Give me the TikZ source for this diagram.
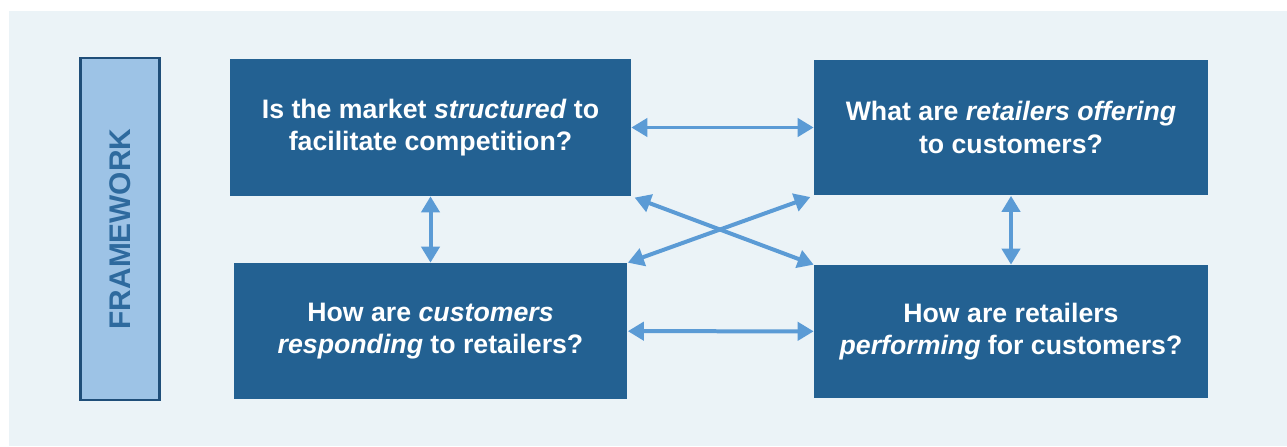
\documentclass[tikz,border=0pt]{standalone}
\usepackage{fontspec}
\setmainfont{Liberation Sans}
\usepackage{tikz}
\usetikzlibrary{arrows.meta}

\definecolor{bgpale}{HTML}{EBF3F7}
\definecolor{qblue}{HTML}{236192}
\definecolor{framefill}{HTML}{9DC3E6}
\definecolor{frameline}{HTML}{1F4E79}
\definecolor{frametext}{HTML}{2E6A9E}
\definecolor{linkblue}{HTML}{5B9BD5}

\tikzset{question/.style={fill=qblue, text=white, align=center, inner sep=0pt,
                          minimum width=7.88cm, minimum height=2.72cm,
                          font=\bfseries\fontsize{15.2}{18.4}\selectfont}}

\begin{document}
\begin{tikzpicture}[x=0.02cm, y=-0.02cm,
                    every edge/.style={draw=linkblue, line width=0.08cm},
                    >={Triangle[length=0.32cm, width=0.36cm]}]
\useasboundingbox (0,0) rectangle (1287,446);
\fill[bgpale] (9,11) rectangle (1287,446);

\node[draw=frameline, line width=0.05cm, fill=framefill, minimum width=1.58cm,
      minimum height=6.84cm, inner sep=0pt] (frame) at (120,229)
      {\rotatebox{90}{\bfseries\fontsize{17}{20}\selectfont\color{frametext}FRAMEWORK}};

\node[question, minimum width=8.02cm, minimum height=2.74cm] (mkt) at (430.5,127.5)
      {Is the market \textit{structured} to\\facilitate competition?};
\node[question] (offer) at (1011,127.5)
      {What are \textit{retailers offering}\\to customers?};
\node[question] (cust) at (430.5,331)
      {How are \textit{customers}\\\textit{responding} to retailers?};
\node[question, minimum height=2.66cm] (perf) at (1011,331.5)
      {How are retailers\\\textit{performing} for customers?};

\path[<->]
(mkt) edge (offer)
(cust) edge (perf)
(mkt) edge (cust)
(offer) edge (perf)
(mkt.south east) edge [shorten <=2pt] (perf.north west)
(offer.south west) edge [shorten <=2pt] (cust.north east);
\end{tikzpicture}
\end{document}
